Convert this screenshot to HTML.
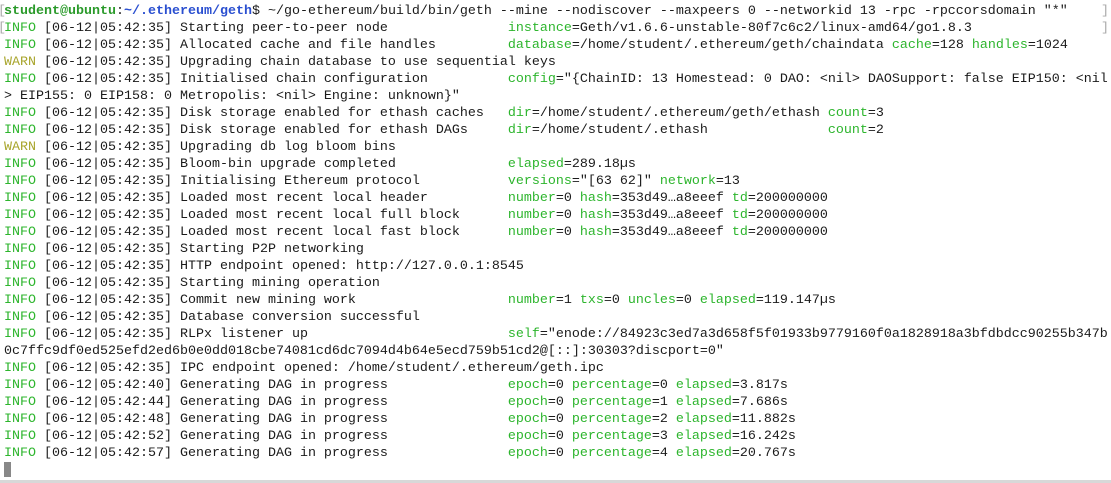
<!DOCTYPE html>
<html><head><meta charset="utf-8"><style>
html,body{margin:0;padding:0;background:#fff;width:1111px;height:483px;overflow:hidden}
pre{margin:0;position:absolute;left:4px;top:3px;font-family:"Liberation Mono",monospace;font-size:13.34px;line-height:17px;color:#1a1a1a;white-space:pre}
.g{color:#2db52d}.w{color:#a8a52c}.u{color:#2a9a2a;font-weight:bold}.b{color:#2a4fd0;font-weight:bold}
.br{position:absolute;font-family:"Liberation Mono",monospace;font-size:13.34px;color:#aaa;line-height:17px}
.cur{position:absolute;left:4px;top:462px;width:7px;height:15px;background:#888}
.bot{position:absolute;left:0;top:480px;width:1111px;height:3px;background:#d8d8d8}
</style></head><body>
<div class="br" style="left:-2px;top:3px">[</div><div class="br" style="left:-2px;top:20px">[</div>
<div class="br" style="left:1101px;top:3px">]</div><div class="br" style="left:1101px;top:20px">]</div>
<pre><span class="u">student@ubuntu</span>:<span class="b">~/.ethereum/geth</span>$ ~/go-ethereum/build/bin/geth --mine --nodiscover --maxpeers 0 --networkid 13 -rpc -rpccorsdomain "*"
<span class="g">INFO</span> [06-12|05:42:35] Starting peer-to-peer node               <span class="g">instance</span>=Geth/v1.6.6-unstable-80f7c6c2/linux-amd64/go1.8.3
<span class="g">INFO</span> [06-12|05:42:35] Allocated cache and file handles         <span class="g">database</span>=/home/student/.ethereum/geth/chaindata <span class="g">cache</span>=128 <span class="g">handles</span>=1024
<span class="w">WARN</span> [06-12|05:42:35] Upgrading chain database to use sequential keys
<span class="g">INFO</span> [06-12|05:42:35] Initialised chain configuration          <span class="g">config</span>="{ChainID: 13 Homestead: 0 DAO: &lt;nil&gt; DAOSupport: false EIP150: &lt;nil
&gt; EIP155: 0 EIP158: 0 Metropolis: &lt;nil&gt; Engine: unknown}"
<span class="g">INFO</span> [06-12|05:42:35] Disk storage enabled for ethash caches   <span class="g">dir</span>=/home/student/.ethereum/geth/ethash <span class="g">count</span>=3
<span class="g">INFO</span> [06-12|05:42:35] Disk storage enabled for ethash DAGs     <span class="g">dir</span>=/home/student/.ethash               <span class="g">count</span>=2
<span class="w">WARN</span> [06-12|05:42:35] Upgrading db log bloom bins
<span class="g">INFO</span> [06-12|05:42:35] Bloom-bin upgrade completed              <span class="g">elapsed</span>=289.18µs
<span class="g">INFO</span> [06-12|05:42:35] Initialising Ethereum protocol           <span class="g">versions</span>="[63 62]" <span class="g">network</span>=13
<span class="g">INFO</span> [06-12|05:42:35] Loaded most recent local header          <span class="g">number</span>=0 <span class="g">hash</span>=353d49…a8eeef <span class="g">td</span>=200000000
<span class="g">INFO</span> [06-12|05:42:35] Loaded most recent local full block      <span class="g">number</span>=0 <span class="g">hash</span>=353d49…a8eeef <span class="g">td</span>=200000000
<span class="g">INFO</span> [06-12|05:42:35] Loaded most recent local fast block      <span class="g">number</span>=0 <span class="g">hash</span>=353d49…a8eeef <span class="g">td</span>=200000000
<span class="g">INFO</span> [06-12|05:42:35] Starting P2P networking
<span class="g">INFO</span> [06-12|05:42:35] HTTP endpoint opened: http://127.0.0.1:8545
<span class="g">INFO</span> [06-12|05:42:35] Starting mining operation
<span class="g">INFO</span> [06-12|05:42:35] Commit new mining work                   <span class="g">number</span>=1 <span class="g">txs</span>=0 <span class="g">uncles</span>=0 <span class="g">elapsed</span>=119.147µs
<span class="g">INFO</span> [06-12|05:42:35] Database conversion successful
<span class="g">INFO</span> [06-12|05:42:35] RLPx listener up                         <span class="g">self</span>="enode://84923c3ed7a3d658f5f01933b9779160f0a1828918a3bfdbdcc90255b347b
0c7ffc9df0ed525efd2ed6b0e0dd018cbe74081cd6dc7094d4b64e5ecd759b51cd2@[::]:30303?discport=0"
<span class="g">INFO</span> [06-12|05:42:35] IPC endpoint opened: /home/student/.ethereum/geth.ipc
<span class="g">INFO</span> [06-12|05:42:40] Generating DAG in progress               <span class="g">epoch</span>=0 <span class="g">percentage</span>=0 <span class="g">elapsed</span>=3.817s
<span class="g">INFO</span> [06-12|05:42:44] Generating DAG in progress               <span class="g">epoch</span>=0 <span class="g">percentage</span>=1 <span class="g">elapsed</span>=7.686s
<span class="g">INFO</span> [06-12|05:42:48] Generating DAG in progress               <span class="g">epoch</span>=0 <span class="g">percentage</span>=2 <span class="g">elapsed</span>=11.882s
<span class="g">INFO</span> [06-12|05:42:52] Generating DAG in progress               <span class="g">epoch</span>=0 <span class="g">percentage</span>=3 <span class="g">elapsed</span>=16.242s
<span class="g">INFO</span> [06-12|05:42:57] Generating DAG in progress               <span class="g">epoch</span>=0 <span class="g">percentage</span>=4 <span class="g">elapsed</span>=20.767s</pre>
<div class="cur"></div>
<div class="bot"></div>
</body></html>
